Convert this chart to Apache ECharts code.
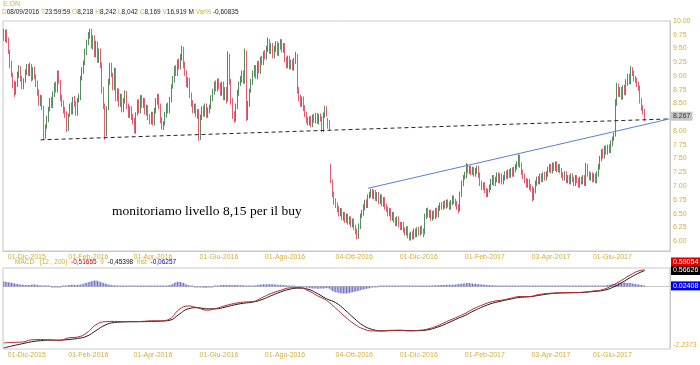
<!DOCTYPE html>
<html><head><meta charset="utf-8">
<script src="https://cdn.jsdelivr.net/npm/echarts@6/dist/echarts.min.js"></script>
<style>html,body{margin:0;padding:0;background:#fff}#c{width:700px;height:365px}</style>
</head><body><div id="c"></div>
<script>
// ---- data (E.ON daily, 10-Nov-2015 .. 30-Jun-2017) ----
const opens = [
9.80,9.70,9.80,9.65,9.42,9.22,9.02,8.88,8.70,8.84,
9.00,9.15,8.97,8.80,8.92,9.06,9.18,9.03,9.20,8.95,
9.13,8.99,8.88,8.72,8.50,8.62,8.43,7.90,8.10,8.20,
8.42,8.56,8.46,8.66,8.84,8.74,9.07,8.90,8.62,8.52,
8.40,8.32,8.03,8.30,8.47,8.34,8.60,8.52,8.32,8.57,
8.60,8.97,9.08,9.24,9.43,9.62,9.73,9.82,9.53,9.70,
9.38,9.60,9.28,9.47,9.22,8.77,8.46,7.93,8.42,8.88,
9.20,9.03,8.78,9.12,8.58,8.74,8.48,8.64,8.38,8.53,
8.70,8.47,8.28,8.42,8.27,8.20,7.98,8.32,8.54,8.36,
8.62,8.46,8.57,8.33,8.44,8.27,8.16,8.32,8.13,8.36,
8.53,8.64,8.47,8.22,8.06,8.14,8.28,8.47,8.36,8.56,
8.82,8.93,9.14,9.03,9.27,9.16,9.33,9.50,9.22,9.07,
8.83,8.94,8.67,8.52,8.36,8.47,8.28,8.37,7.86,8.23,
8.42,8.30,8.47,8.28,8.36,8.44,8.58,8.70,8.87,8.76,
8.92,8.84,8.68,8.87,8.60,8.77,8.57,9.37,8.92,8.57,
8.32,8.20,8.43,8.68,8.87,8.93,9.07,8.90,9.44,8.23,
8.48,8.74,8.88,9.03,9.17,8.98,9.24,9.08,9.32,9.23,
9.42,9.33,9.48,9.64,9.43,9.57,9.36,9.48,9.60,9.40,
9.53,9.64,9.46,9.57,9.32,9.18,9.34,9.16,9.27,9.13,
9.26,9.38,8.77,8.62,8.48,8.60,8.44,8.32,8.22,8.13,
8.24,8.10,8.27,8.18,8.30,8.16,8.28,8.24,8.00,8.28,
8.42,8.218,8.15,7.36,7.08,6.87,6.74,6.67,6.60,6.48,
6.57,6.40,6.50,6.36,6.47,6.33,6.42,6.28,6.38,6.27,
6.20,6.06,6.26,6.47,6.50,6.60,6.72,6.63,6.82,6.83,
6.92,6.80,6.90,6.76,6.86,6.70,6.82,6.66,6.77,6.64,
6.60,6.48,6.57,6.40,6.50,6.40,6.30,6.42,6.32,6.23,
6.32,6.22,6.13,6.24,6.12,6.03,6.14,6.06,6.20,6.10,
6.22,6.13,6.24,6.20,6.14,6.43,6.57,6.46,6.54,6.40,
6.52,6.43,6.57,6.46,6.58,6.67,6.60,6.70,6.62,6.72,
6.68,6.60,6.68,6.80,6.74,6.70,6.64,6.57,6.83,7.03,
7.17,7.18,7.37,7.26,7.34,7.23,7.32,7.20,7.26,7.34,
7.22,7.07,6.96,7.04,6.94,6.83,6.92,6.96,7.06,7.17,
7.03,7.10,7.22,7.08,7.20,7.06,7.13,7.24,7.16,7.27,
7.18,7.30,7.20,7.28,7.33,7.38,7.54,7.40,7.27,7.20,
7.12,7.00,7.10,7.00,6.97,6.76,6.90,7.03,7.14,7.06,
7.20,7.10,7.22,7.13,7.20,7.28,7.37,7.26,7.40,7.30,
7.42,7.28,7.37,7.30,7.22,7.13,7.24,7.08,7.17,7.06,
7.20,7.14,7.03,7.17,7.12,7.00,7.14,7.06,7.17,7.03,
7.37,7.24,7.13,7.22,7.10,7.20,7.08,7.20,7.33,7.48,
7.64,7.53,7.70,7.60,7.72,7.63,7.76,7.87,7.94,8.50,
8.82,8.66,8.77,8.60,8.80,8.68,8.86,9.00,8.88,9.12,
9.07,8.97,8.94,8.87,8.80,8.57,8.44,8.37];
const highs = [
9.86,9.84,9.85,9.70,9.48,9.28,9.06,8.92,8.90,9.08,
9.20,9.18,9.00,8.96,9.12,9.22,9.22,9.24,9.22,9.16,
9.17,9.03,8.92,8.76,8.66,8.65,8.46,8.12,8.28,8.44,
8.60,8.62,8.72,8.88,8.90,9.10,9.10,8.93,8.66,8.56,
8.44,8.36,8.32,8.50,8.52,8.62,8.64,8.55,8.60,8.68,
9.00,9.16,9.28,9.50,9.66,9.80,9.86,9.86,9.74,9.74,
9.64,9.63,9.50,9.50,9.25,8.80,8.50,8.45,8.95,9.24,
9.24,9.06,9.15,9.15,8.78,8.77,8.68,8.67,8.60,8.74,
8.73,8.50,8.46,8.45,8.31,8.24,8.34,8.57,8.58,8.65,
8.66,8.60,8.60,8.48,8.47,8.31,8.35,8.35,8.42,8.60,
8.68,8.67,8.50,8.25,8.18,8.35,8.50,8.52,8.62,8.85,
9.00,9.18,9.20,9.30,9.32,9.40,9.55,9.53,9.26,9.10,
8.98,8.97,8.70,8.56,8.50,8.50,8.40,8.40,8.30,8.45,
8.46,8.50,8.50,8.43,8.48,8.65,8.77,8.90,8.92,8.95,
8.96,8.88,8.90,8.90,8.80,8.80,9.45,9.40,8.95,8.60,
8.36,8.50,8.75,8.90,9.00,9.10,9.10,9.50,9.46,8.55,
8.77,8.95,9.10,9.20,9.20,9.27,9.28,9.35,9.37,9.45,
9.47,9.55,9.70,9.67,9.60,9.60,9.55,9.63,9.63,9.60,
9.67,9.67,9.60,9.60,9.35,9.37,9.37,9.30,9.30,9.33,
9.44,9.40,8.80,8.66,8.63,8.63,8.47,8.35,8.26,8.27,
8.27,8.30,8.31,8.33,8.33,8.31,8.32,8.27,8.34,8.46,
8.45,8.242,8.20,7.40,7.12,6.90,6.78,6.70,6.64,6.60,
6.60,6.53,6.53,6.50,6.50,6.45,6.45,6.41,6.41,6.30,
6.23,6.32,6.50,6.57,6.67,6.75,6.76,6.85,6.90,6.95,
6.95,6.93,6.93,6.89,6.89,6.85,6.85,6.80,6.80,6.68,
6.63,6.60,6.60,6.53,6.53,6.43,6.45,6.45,6.35,6.35,
6.35,6.25,6.27,6.27,6.15,6.17,6.18,6.23,6.23,6.25,
6.26,6.27,6.28,6.23,6.50,6.60,6.61,6.57,6.57,6.55,
6.56,6.60,6.61,6.65,6.70,6.71,6.73,6.74,6.75,6.76,
6.72,6.75,6.83,6.83,6.77,6.73,6.67,6.90,7.10,7.20,
7.26,7.42,7.40,7.37,7.37,7.35,7.35,7.33,7.37,7.37,
7.25,7.10,7.07,7.07,6.97,6.95,7.03,7.13,7.20,7.20,
7.17,7.25,7.25,7.23,7.23,7.20,7.27,7.28,7.30,7.31,
7.33,7.34,7.35,7.40,7.45,7.58,7.57,7.43,7.30,7.23,
7.15,7.13,7.13,7.04,7.00,6.97,7.10,7.17,7.18,7.23,
7.23,7.25,7.26,7.27,7.35,7.40,7.40,7.43,7.43,7.45,
7.45,7.40,7.40,7.33,7.25,7.27,7.27,7.20,7.20,7.23,
7.23,7.17,7.20,7.20,7.15,7.17,7.17,7.20,7.20,7.42,
7.40,7.27,7.25,7.25,7.23,7.23,7.27,7.40,7.55,7.67,
7.68,7.73,7.74,7.75,7.76,7.83,7.90,7.97,8.58,8.88,
8.86,8.80,8.80,8.83,8.84,8.94,9.04,9.04,9.18,9.16,
9.10,9.00,8.97,8.90,8.83,8.60,8.47,8.40];
const lows = [
9.64,9.62,9.60,9.40,9.14,8.98,8.78,8.62,8.66,8.80,
8.96,8.90,8.76,8.76,8.88,9.02,9.00,9.00,8.90,8.92,
8.94,8.80,8.64,8.46,8.45,8.38,7.84,7.86,8.04,8.16,
8.36,8.42,8.42,8.62,8.70,8.70,8.86,8.54,8.44,8.32,
8.24,7.98,8.00,8.26,8.30,8.30,8.44,8.28,8.28,8.52,
8.56,8.92,9.04,9.20,9.38,9.56,9.68,9.50,9.48,9.34,
9.34,9.24,9.24,9.14,8.68,8.40,7.84,7.90,8.38,8.84,
8.98,8.74,8.74,8.54,8.54,8.44,8.44,8.34,8.34,8.50,
8.40,8.24,8.24,8.20,8.12,7.96,7.95,8.28,8.32,8.32,
8.42,8.42,8.30,8.28,8.20,8.12,8.12,8.10,8.10,8.32,
8.48,8.40,8.14,8.03,8.02,8.10,8.24,8.32,8.32,8.52,
8.77,8.88,9.00,9.00,9.12,9.12,9.28,9.14,9.00,8.80,
8.78,8.60,8.44,8.32,8.32,8.25,8.22,7.82,7.84,8.20,
8.26,8.26,8.24,8.24,8.32,8.40,8.54,8.66,8.72,8.72,
8.76,8.64,8.64,8.56,8.56,8.50,8.54,8.84,8.48,8.22,
8.15,8.17,8.40,8.64,8.82,8.88,8.86,8.86,8.18,8.20,
8.44,8.70,8.84,8.98,8.95,8.94,9.05,9.04,9.20,9.20,
9.30,9.30,9.44,9.40,9.40,9.32,9.32,9.44,9.37,9.36,
9.48,9.43,9.42,9.25,9.14,9.14,9.12,9.12,9.10,9.10,
9.22,8.68,8.54,8.44,8.44,8.36,8.25,8.14,8.10,8.10,
8.07,8.07,8.15,8.14,8.13,8.12,8.17,7.98,7.98,8.24,
8.26,8.042,8.02,7.05,6.80,6.66,6.60,6.53,6.45,6.45,
6.38,6.37,6.33,6.33,6.30,6.30,6.25,6.25,6.20,6.12,
6.03,6.04,6.22,6.42,6.46,6.56,6.60,6.60,6.77,6.79,
6.77,6.76,6.73,6.72,6.67,6.67,6.63,6.62,6.57,6.53,
6.45,6.45,6.37,6.37,6.33,6.27,6.27,6.25,6.20,6.20,
6.15,6.10,6.10,6.05,6.01,6.01,6.03,6.03,6.07,6.07,
6.10,6.10,6.13,6.07,6.12,6.40,6.43,6.42,6.37,6.37,
6.40,6.40,6.43,6.43,6.55,6.57,6.57,6.59,6.59,6.61,
6.57,6.57,6.65,6.67,6.63,6.57,6.50,6.54,6.80,7.00,
7.12,7.14,7.23,7.22,7.20,7.20,7.17,7.17,7.22,7.15,
7.00,6.93,6.93,6.87,6.80,6.80,6.88,6.93,7.02,7.00,
7.00,7.07,7.05,7.05,7.03,7.03,7.10,7.13,7.13,7.15,
7.15,7.17,7.17,7.25,7.30,7.35,7.33,7.20,7.13,7.05,
6.97,6.97,6.93,6.90,6.72,6.74,6.87,7.00,7.03,7.03,
7.07,7.07,7.10,7.10,7.17,7.25,7.23,7.23,7.27,7.27,
7.25,7.25,7.23,7.15,7.10,7.10,7.05,7.05,7.03,7.03,
7.07,7.00,7.00,7.05,6.97,6.97,7.03,7.03,7.00,7.00,
7.17,7.10,7.10,7.07,7.07,7.05,7.05,7.17,7.30,7.45,
7.50,7.50,7.57,7.57,7.60,7.60,7.72,7.82,7.90,8.46,
8.62,8.62,8.57,8.57,8.65,8.65,8.82,8.85,8.85,9.00,
8.90,8.87,8.80,8.73,8.50,8.37,8.30,8.18];
const closes = [
9.72,9.78,9.66,9.45,9.20,9.05,8.85,8.68,8.85,9.02,
9.14,8.95,8.82,8.90,9.08,9.16,9.05,9.18,8.96,9.12,
8.98,8.86,8.70,8.52,8.60,8.45,7.92,8.08,8.22,8.40,
8.55,8.48,8.68,8.82,8.76,9.05,8.92,8.60,8.50,8.38,
8.30,8.05,8.28,8.45,8.36,8.58,8.50,8.34,8.55,8.62,
8.95,9.10,9.22,9.45,9.60,9.75,9.80,9.55,9.68,9.40,
9.58,9.30,9.45,9.20,8.75,8.48,7.95,8.40,8.90,9.18,
9.05,8.80,9.10,8.60,8.72,8.50,8.62,8.40,8.55,8.68,
8.45,8.30,8.40,8.25,8.18,8.00,8.30,8.52,8.38,8.60,
8.48,8.55,8.35,8.42,8.25,8.18,8.30,8.15,8.38,8.55,
8.62,8.45,8.20,8.08,8.12,8.30,8.45,8.38,8.58,8.80,
8.95,9.12,9.05,9.25,9.18,9.35,9.48,9.20,9.05,8.85,
8.92,8.65,8.50,8.38,8.45,8.30,8.35,7.88,8.25,8.40,
8.32,8.45,8.30,8.38,8.42,8.60,8.72,8.85,8.78,8.90,
8.82,8.70,8.85,8.62,8.75,8.55,9.35,8.90,8.55,8.30,
8.22,8.45,8.70,8.85,8.95,9.05,8.92,9.42,8.25,8.50,
8.72,8.90,9.05,9.15,9.00,9.22,9.10,9.30,9.25,9.40,
9.35,9.50,9.62,9.45,9.55,9.38,9.50,9.58,9.42,9.55,
9.62,9.48,9.55,9.30,9.20,9.32,9.18,9.25,9.15,9.28,
9.40,8.75,8.60,8.50,8.58,8.42,8.30,8.20,8.15,8.22,
8.12,8.25,8.20,8.28,8.18,8.26,8.22,8.02,8.30,8.40,
8.32,8.169,8.08,7.10,6.85,6.72,6.65,6.58,6.50,6.55,
6.42,6.48,6.38,6.45,6.35,6.40,6.30,6.36,6.25,6.18,
6.08,6.28,6.45,6.52,6.62,6.70,6.65,6.80,6.85,6.90,
6.82,6.88,6.78,6.84,6.72,6.80,6.68,6.75,6.62,6.58,
6.50,6.55,6.42,6.48,6.38,6.32,6.40,6.30,6.25,6.30,
6.20,6.15,6.22,6.10,6.05,6.12,6.08,6.18,6.12,6.20,
6.15,6.22,6.18,6.12,6.45,6.55,6.48,6.52,6.42,6.50,
6.45,6.55,6.48,6.60,6.65,6.62,6.68,6.64,6.70,6.66,
6.62,6.70,6.78,6.72,6.68,6.62,6.55,6.85,7.05,7.15,
7.20,7.35,7.28,7.32,7.25,7.30,7.22,7.28,7.32,7.20,
7.05,6.98,7.02,6.92,6.85,6.90,6.98,7.08,7.15,7.05,
7.12,7.20,7.10,7.18,7.08,7.15,7.22,7.18,7.25,7.20,
7.28,7.22,7.30,7.35,7.40,7.52,7.38,7.25,7.18,7.10,
7.02,7.08,6.98,6.95,6.78,6.92,7.05,7.12,7.08,7.18,
7.12,7.20,7.15,7.22,7.30,7.35,7.28,7.38,7.32,7.40,
7.30,7.35,7.28,7.20,7.15,7.22,7.10,7.15,7.08,7.18,
7.12,7.05,7.15,7.10,7.02,7.12,7.08,7.15,7.05,7.35,
7.22,7.15,7.20,7.12,7.18,7.10,7.22,7.35,7.50,7.62,
7.55,7.68,7.62,7.70,7.65,7.78,7.85,7.92,8.52,8.80,
8.68,8.75,8.62,8.78,8.70,8.88,8.98,8.90,9.10,9.05,
8.95,8.92,8.85,8.78,8.55,8.42,8.35,8.22];
// MACD(12,200) & signal(9), sampled every 6 sessions + last session
const macdStep = 6;
const macdLine = [
-2.02,-2.00,-1.99,-1.91,-1.90,-1.91,-1.93,-1.84,-1.81,-1.66,
-1.37,-1.26,-1.25,-1.26,-1.26,-1.25,-1.23,-1.23,-1.16,-0.83,
-0.70,-0.76,-0.85,-0.79,-0.69,-0.61,-0.56,-0.54,-0.40,-0.25,
-0.14,-0.05,-0.04,-0.15,-0.33,-0.50,-0.78,-1.08,-1.34,-1.52,
-1.59,-1.59,-1.57,-1.57,-1.59,-1.57,-1.52,-1.41,-1.26,-1.12,
-0.97,-0.79,-0.65,-0.54,-0.49,-0.42,-0.36,-0.36,-0.29,-0.25,
-0.23,-0.22,-0.22,-0.20,-0.16,-0.11,0.04,0.22,0.42,0.57,0.59054];
const signalLine = [
-2.20,-2.12,-2.05,-1.98,-1.94,-1.92,-1.92,-1.90,-1.86,-1.78,
-1.58,-1.38,-1.29,-1.27,-1.26,-1.26,-1.25,-1.24,-1.21,-1.00,
-0.80,-0.76,-0.80,-0.80,-0.74,-0.66,-0.60,-0.56,-0.47,-0.33,
-0.20,-0.10,-0.06,-0.10,-0.25,-0.44,-0.58,-0.84,-1.14,-1.40,
-1.54,-1.59,-1.58,-1.57,-1.58,-1.58,-1.55,-1.46,-1.33,-1.18,
-1.04,-0.87,-0.72,-0.60,-0.52,-0.45,-0.39,-0.37,-0.32,-0.27,
-0.24,-0.23,-0.22,-0.21,-0.18,-0.14,-0.04,0.13,0.33,0.50,0.56626];
// histogram, in hundredths
const histogram = [
18,17,16,15,14,13, 12,11,10,9,8,7, 6,6,5,5,5,5, 6,7,7,6,5,4, 4,3,2,1,1,0,
0,-1,-1,-1,-1,-1, -1,-1,0,1,2,3, 5,5,6,6,5,5, 5,6,7,8,10,12, 13,15,17,19,20,21,
21,20,18,16,14,12, 11,9,7,6,5,4, 4,3,3,2,2,1, 1,1,0,0,0,0, 0,0,0,1,1,1,
1,1,1,1,1,2, 2,1,1,1,1,1, 1,1,2,2,3,4, 5,7,10,13,15,17, 17,16,14,12,10,7,
5,3,1,0,-1,-2, -2,-3,-4,-4,-5,-5, -5,-4,-3,-2,-1,0, 1,2,3,4,5,5, 5,5,5,5,5,5,
5,5,5,4,4,4, 4,3,3,2,2,2, 2,3,4,5,6,7, 7,8,8,8,8,8, 8,8,7,7,6,6,
6,5,5,4,4,3, 3,2,1,0,-1,-2, -2,-3,-3,-4,-4,-5, -5,-6,-6,-7,-7,-7, -8,-8,-7,-7,-7,-6,
-6,-6,-8,-14,-17,-19, -21,-22,-23,-24,-25,-25, -25,-25,-24,-23,-22,-21, -20,-18,-17,-15,-14,-12, -11,-10,-8,-7,-6,-5,
-3,-2,-1,-1,0,0, 0,0,0,0,0,0, 0,0,1,0,0,0, 0,0,0,0,0,0, 0,0,0,0,1,1,
1,1,1,1,2,2, 2,3,3,3,4,4, 4,5,5,5,5,5, 6,6,6,6,6,6, 7,8,9,10,10,11,
11,12,12,12,11,11, 10,10,9,8,8,7, 7,6,6,5,5,4, 4,4,3,3,3,3, 3,3,3,2,2,2,
2,2,2,2,2,2, 2,1,1,1,1,1, 1,0,0,0,0,0, 1,1,1,1,1,1, 1,1,1,1,0,0,
0,0,0,0,0,0, 0,0,0,0,0,0, 0,0,0,0,0,0, 0,1,1,1,1,1, 1,1,2,2,2,3,
3,3,4,5,6,7, 8,9,10,11,12,13, 14,14,14,13,13,12, 12,11,10,9,8,7, 6,5,4,2];
const lastPrice = 8.267;
const macdLastVals = {macd: 0.59054, signal: 0.56626, hist: 0.02408};
const macdMin = -2.2373;
const priceTicks = [6,6.25,6.5,6.75,7,7.25,7.5,7.75,8,8.25,8.5,8.75,9,9.25,9.5,9.75,10];
const tickDates = ['2015-12-01','2016-02-01','2016-04-01','2016-06-01','2016-08-01','2016-10-04','2016-12-01','2017-02-01','2017-04-03','2017-06-01'];
const supportLine = [['2015-12-14', 7.84], ['2017-07-24', 8.22]];
const trendLine = [['2016-10-17', 6.96], ['2017-07-24', 8.22]];
const monthsIt = ['Gen','Feb','Mar','Apr','Mag','Giu','Lug','Ago','Set','Ott','Nov','Dic'];
const holidays = ['2015-12-24','2015-12-25','2015-12-31','2016-01-01','2016-03-25','2016-03-28','2016-10-03','2016-12-26','2017-04-14','2017-04-17','2017-05-01'];

// trading-day categories (plus empty sessions after the last bar)
const categories = [];
(function(){
  let d = new Date(Date.UTC(2015,10,10));
  while (categories.length < 434) {
    const wd = d.getUTCDay();
    const s = d.toISOString().slice(0,10);
    if (wd !== 0 && wd !== 6 && holidays.indexOf(s) < 0) categories.push(s);
    d = new Date(d.getTime() + 86400000);
  }
})();
function fmtDate(s){ const p = s.split('-'); return p[2] + '-' + monthsIt[+p[1]-1] + '-' + p[0]; }

const candles = closes.map((c,i) => [opens[i], c, lows[i], highs[i]]);
const lastIdx = closes.length - 1;
const macdIdx = macdLine.map((v,k) => k < macdLine.length - 1 ? k*macdStep : lastIdx);
const macdData = macdLine.map((v,k) => [macdIdx[k], v]);
const signalData = signalLine.map((v,k) => [macdIdx[k], v]);
const histData = histogram.map(v => v/100);

const gold = '#d4ad3c';
const frame = '#c9c9c9';
const FONT = 'Liberation Sans';

const xLabel = {
  interval: (idx, val) => tickDates.indexOf(val) >= 0,
  formatter: fmtDate, color: gold, fontSize: 7, fontFamily: FONT, margin: 3
};
function boxLabel(text, bg, fg, dy) {
  return {show: true, position: 'end', distance: 1, formatter: text, backgroundColor: bg, color: fg,
          fontSize: 7, fontFamily: FONT, padding: [1,2,1,2], offset: [0, dy]};
}
const hiddenLine = {width: 0, color: 'rgba(0,0,0,0)'};

const chart = echarts.init(document.getElementById('c'), null, {renderer: 'canvas'});
chart.setOption({
  animation: false,
  textStyle: {fontFamily: FONT},
  grid: [
    {left: 3, right: 30, top: 21, height: 230, show: true, borderColor: frame, borderWidth: 1, backgroundColor: 'transparent'},
    {left: 3, right: 30, top: 268, height: 81, show: true, borderColor: frame, borderWidth: 1, backgroundColor: 'transparent'}
  ],
  xAxis: [
    {type: 'category', gridIndex: 0, data: categories, boundaryGap: true,
     axisLine: {lineStyle: {color: frame}}, axisTick: {show: false}, axisLabel: xLabel, splitLine: {show: false}},
    {type: 'category', gridIndex: 1, data: categories, boundaryGap: true,
     axisLine: {lineStyle: {color: frame}}, axisTick: {show: false}, axisLabel: xLabel, splitLine: {show: false}}
  ],
  yAxis: [
    {type: 'value', gridIndex: 0, position: 'right', min: 5.82, max: 10,
     axisLine: {show: true, lineStyle: {color: frame}}, axisTick: {show: false}, splitLine: {show: false},
     axisLabel: {customValues: priceTicks, formatter: v => v.toFixed(2), color: gold, fontSize: 7, margin: 3}},
    {type: 'value', gridIndex: 1, position: 'right', min: macdMin, max: 0.66,
     axisLine: {show: true, lineStyle: {color: frame}}, axisTick: {show: false}, splitLine: {show: false},
     axisLabel: {customValues: [macdMin], formatter: v => String(macdMin), color: gold, fontSize: 7, margin: 3, verticalAlign: 'bottom'}}
  ],
  series: [
    {type: 'candlestick', xAxisIndex: 0, yAxisIndex: 0, data: candles, barWidth: 1, clip: false,
     itemStyle: {color: '#2f6e33', color0: '#d9344c', borderColor: '#2f6e33', borderColor0: '#d9344c', borderWidth: 0.8},
     markLine: {silent: true, symbol: 'none', lineStyle: hiddenLine,
       label: boxLabel(String(lastPrice), '#c6c6c6', '#333', 0), data: [{yAxis: lastPrice}]}},
    {type: 'line', xAxisIndex: 0, yAxisIndex: 0, data: supportLine, showSymbol: false, silent: true,
     lineStyle: {color: '#222', width: 1, type: [4,3]}},
    {type: 'line', xAxisIndex: 0, yAxisIndex: 0, data: trendLine, showSymbol: false, silent: true,
     lineStyle: {color: '#5a7fd0', width: 1}},
    {type: 'bar', xAxisIndex: 1, yAxisIndex: 1, data: histData, barWidth: 1, barMinHeight: 1, clip: false,
     itemStyle: {color: '#6b6bc0'},
     markLine: {silent: true, symbol: 'none', lineStyle: hiddenLine,
       label: boxLabel(macdLastVals.hist.toFixed(5), '#0000ee', '#fff', 0), data: [{yAxis: macdLastVals.hist}]}},
    {type: 'line', xAxisIndex: 1, yAxisIndex: 1, data: signalData, smooth: true, showSymbol: false, silent: true, clip: false,
     lineStyle: {color: '#1a1a1a', width: 1},
     markLine: {silent: true, symbol: 'none', lineStyle: hiddenLine,
       label: boxLabel(macdLastVals.signal.toFixed(5), '#000', '#fff', 0), data: [{yAxis: macdLastVals.signal}]}},
    {type: 'line', xAxisIndex: 1, yAxisIndex: 1, data: macdData, smooth: true, showSymbol: false, silent: true, clip: false,
     lineStyle: {color: '#b8262e', width: 1},
     markLine: {silent: true, symbol: 'none', lineStyle: hiddenLine,
       label: boxLabel(macdLastVals.macd.toFixed(5), '#e30000', '#fff', -8), data: [{yAxis: macdLastVals.macd}]}}
  ],
  graphic: [
    {type: 'text', left: 3, top: 1, style: {text: 'E.ON', fill: gold, font: '7px ' + FONT}},
    {type: 'text', left: 2, top: 9, style: {
      text: '{g|D}{b|08/09/2016} {g|T}{b|23:59:59} {g|O}{b|8,218} {g|H}{b|8,242} {g|L}{b|8,042} {g|C}{b|8,169} {g|V}{b|16,919 M} {g|Var%} {b|-0,60835}',
      font: '6.5px ' + FONT,
      rich: {g: {fill: gold, font: '6.5px ' + FONT}, b: {fill: '#222', font: '6.5px ' + FONT}}}},
    {type: 'text', left: 112, top: 204, style: {text: 'monitoriamo livello 8,15 per il buy', fill: '#000', font: '13.5px "Liberation Serif"'}},
    {type: 'text', left: 15, top: 259, style: {
      text: '{g|MACD}   {g|(12 , 200)}  {r|-0,51655}  {g|9}  {b|-0,45398}  {g|hist}  {u|-0,06257}',
      font: '6.5px ' + FONT,
      rich: {g: {fill: gold, font: '6.5px ' + FONT}, r: {fill: '#d00000', font: '6.5px ' + FONT},
             b: {fill: '#111', font: '6.5px ' + FONT}, u: {fill: '#0000cc', font: '6.5px ' + FONT}}}}
  ]
});
</script></body></html>
